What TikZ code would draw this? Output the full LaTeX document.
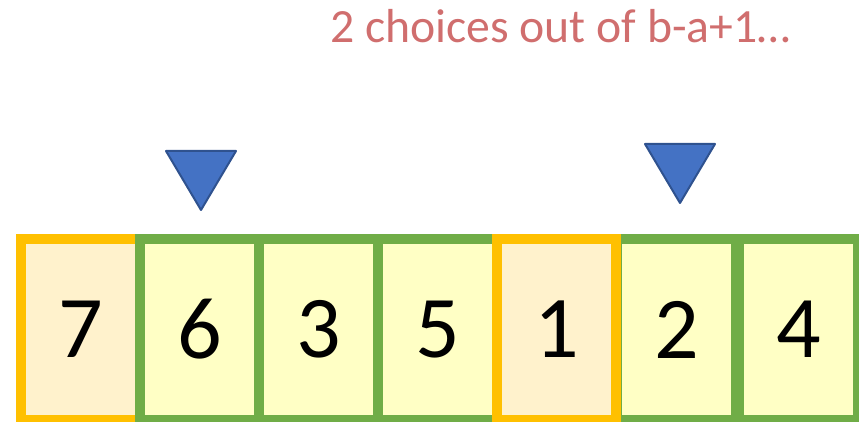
\documentclass[tikz,border=0pt]{standalone}
\usepackage{fontspec}
\setmainfont{Carlito}
\definecolor{orangeborder}{HTML}{FFC000}
\definecolor{orangefill}{HTML}{FFF2CC}
\definecolor{greenborder}{HTML}{70AD47}
\definecolor{greenfill}{HTML}{FFFFC5}
\definecolor{triblue}{HTML}{4472C4}
\definecolor{triedge}{HTML}{2F528F}
\definecolor{notered}{HTML}{D06E6E}
\tikzset{
  cellbox/.style={draw, line width=10pt, outer sep=0pt, minimum width=119pt, minimum height=181pt, inner sep=0pt, anchor=north west, font=\fontsize{88}{90}\selectfont},
  goodcell/.style={cellbox, draw=greenborder, fill=greenfill},
  badcell/.style={cellbox, draw=orangeborder, fill=orangefill},
  pointer/.style={draw=triedge, fill=triblue, line width=2pt, line join=round},
}
\begin{document}
\begin{tikzpicture}[x=1pt,y=-1pt]
\useasboundingbox (0,0) rectangle (859,422);
\begin{scope}
\clip (0,0) rectangle (859,422);
\node[badcell]  (c1) at (21,239) {7};
\node[goodcell] (c2) at (140,239) {6};
\node[goodcell] (c3) at (259,239) {3};
\node[goodcell] (c4) at (378,239) {5};
\node[goodcell] (c6) at (617,239) {2};
\node[goodcell] (c7) at (739,239) {4};
\node[badcell]  (c5) at (497,239) {1};
\end{scope}
\draw[pointer] (166,151) -- (236,151) -- (201,210) -- cycle;
\draw[pointer] (645,144) -- (715,144) -- (680,203) -- cycle;
\node[anchor=base west, inner sep=0pt, text=notered, font=\fontsize{47.7}{49}\selectfont] (note) at (330,43) {2 choices out of b-a+1…};
\end{tikzpicture}
\end{document}
